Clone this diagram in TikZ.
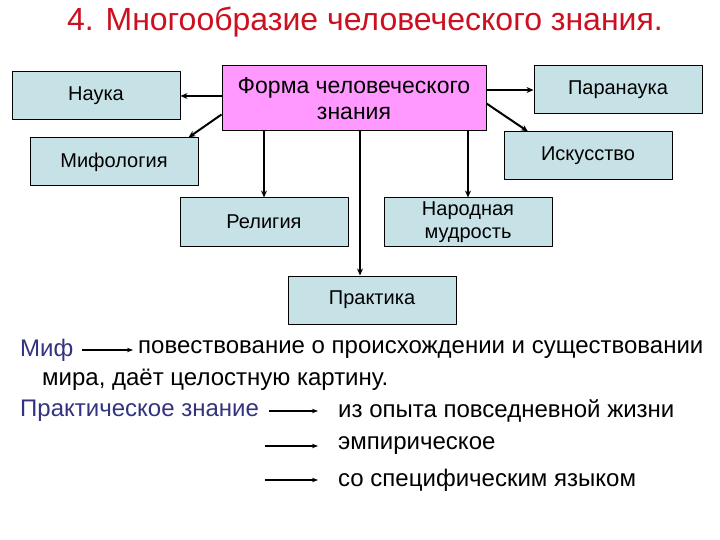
\documentclass[tikz,border=0pt]{standalone}
\usepackage{fontspec}
\setmainfont{Liberation Sans}
\usetikzlibrary{arrows.meta}
\definecolor{boxblue}{RGB}{198,226,230}
\definecolor{boxpink}{RGB}{255,153,255}
\definecolor{titlered}{RGB}{204,16,32}
\definecolor{navy}{RGB}{51,51,128}
\tikzset{
	kind/.style={draw, line width=1pt, fill=boxblue, minimum width=168pt, minimum height=48pt, inner sep=1pt, align=center, font=\fontsize{20}{23}\selectfont},
	link/.style={-{Stealth[length=7pt,width=6pt]}, line width=2pt},
	note/.style={anchor=west, inner sep=0pt, font=\fontsize{24}{26}\selectfont},
	thin link/.style={-{Stealth[length=6pt,width=4.5pt]}, line width=1.3pt}
}
\begin{document}
	\begin{tikzpicture}[x=1pt, y=-1pt, line join=round]
		\useasboundingbox[fill=white] (0,0) rectangle (720,540);
		\node[text=titlered, font=\fontsize{32}{34}\selectfont] (title) at (365,22) {4. Многообразие человеческого знания.};
		\node[kind, fill=boxpink, minimum width=264pt, minimum height=65pt, font=\fontsize{23}{26}\selectfont] (form) at (354,98.5) {Форма человеческого\\знания};
		\node[kind] (nauka) at (96,96) {Наука};
		\node[kind] (para) at (618,90) {Паранаука};
		\node[kind] (mif) at (114,162) {Мифология};
		\node[kind] (isk) at (588,156) {Искусство};
		\node[kind] (rel) at (264,222) {Религия};
		\node[kind] (nar) at (468,222) {Народная\\мудрость};
		\node[kind] (prak) at (372,300) {Практика};
		% стрелки от центрального блока
		\draw[link] (form.west |- nauka) -- (nauka.east);
		\draw[link] ([yshift=17pt]form.south west) -- ([xshift=-10pt]mif.north east);
		\draw[link] (form.east |- para) -- (para.west);
		\draw[link] ([yshift=-5pt]form.east) -- ([xshift=-60pt]isk.north);
		\draw[link] (form.south -| rel) -- (rel.north);
		\draw[link] (form.south -| nar) -- (nar.north);
		\draw[link] (form.south -| 360,0) -- (prak.north -| 360,0);
		% нижний текст
		\node[note, text=navy] (myth) at (20,350) {Миф};
		\node[note] (story) at (138,350) {повествование о происхождении и существовании};
		\node[note] (story2) at (42,380) {мира, даёт целостную картину.};
		\node[note, text=navy] (prac) at (20,411) {Практическое знание};
		\node[note] (p1) at (338,411) {из опыта повседневной жизни};
		\node[note] (p2) at (338,446) {эмпирическое};
		\node[note] (p3) at (338,480) {со специфическим языком};
		\coordinate (a2) at (265,446);
		\coordinate (a3) at (265,480);
		\draw[thin link] ([xshift=8pt]myth.east) -- ([xshift=-5pt]story.west);
		\draw[thin link] ([xshift=10pt]prac.east) -- ([xshift=-20pt]p1.west);
		\draw[thin link] (a2) -- ([xshift=-20pt]p2.west);
		\draw[thin link] (a3) -- ([xshift=-20pt]p3.west);
	\end{tikzpicture}
\end{document}
